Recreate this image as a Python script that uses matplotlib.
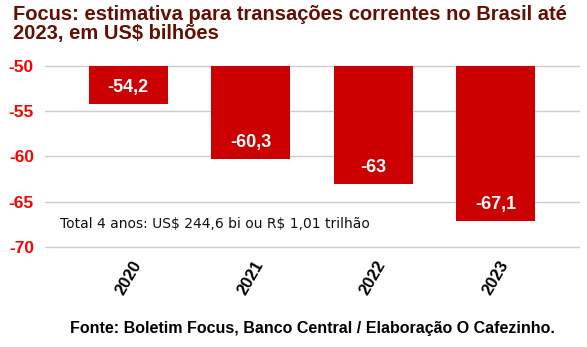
import matplotlib
matplotlib.use("Agg")
import matplotlib.pyplot as plt

anos = ["2020", "2021", "2022", "2023"]
valores = [-54.2, -60.3, -63.0, -67.1]
rotulos = ["-54,2", "-60,3", "-63", "-67,1"]
yticks = [-50, -55, -60, -65, -70]

plt.rcParams["font.family"] = ["Liberation Sans", "DejaVu Sans"]

fig = plt.figure(figsize=(5.87, 3.47), dpi=100)
ax = fig.add_axes([45 / 587, 1 - 250 / 347, 535 / 587, 185 / 347])

x = list(range(len(anos)))
base = -50
barras = ax.bar(x, [v - base for v in valores], bottom=base, width=0.645,
                color="#cc0000", zorder=3)

for xi, v, r in zip(x, valores, rotulos):
    ax.text(xi, v + 1.8, r, ha="center", va="center", color="white",
            fontsize=13, fontweight="bold", zorder=4)

ax.set_xlim(-0.68, 3.69)
ax.set_ylim(-70.35, -49.9)
ax.set_yticks(yticks)
ax.set_yticklabels([str(t) for t in yticks], color="#ff0000",
                   fontsize=12.5, fontweight="bold")
ax.set_xticks(x)
ax.set_xticklabels(anos, rotation=60, fontsize=12, fontweight="bold",
                   ha="center", va="top")
ax.tick_params(axis="both", length=0)
ax.tick_params(axis="x", pad=6)
ax.tick_params(axis="y", pad=8)
ax.grid(axis="y", color="#cccccc", linewidth=1, zorder=0)
for s in ax.spines.values():
    s.set_visible(False)

ax.text(60 / 587, 1 - 224 / 347, r"Total 4 anos: US\$ 244,6 bi ou R\$ 1,01 trilhão",
        transform=fig.transFigure, fontsize=10, family="DejaVu Sans",
        ha="left", va="center", color="#111111")

fig.text(13 / 587, 1 - 5 / 347,
         "Focus: estimativa para transações correntes no Brasil até\n2023, em US\\$ bilhões",
         ha="left", va="top", fontsize=14.5, fontweight="bold", color="#640f02",
         linespacing=1.0)

fig.text(312 / 587, 1 - 329 / 347,
         "Fonte: Boletim Focus, Banco Central / Elaboração O Cafezinho.",
         ha="center", va="center", fontsize=11.5, fontweight="bold", color="black")

fig.savefig("out.png", dpi=100)
